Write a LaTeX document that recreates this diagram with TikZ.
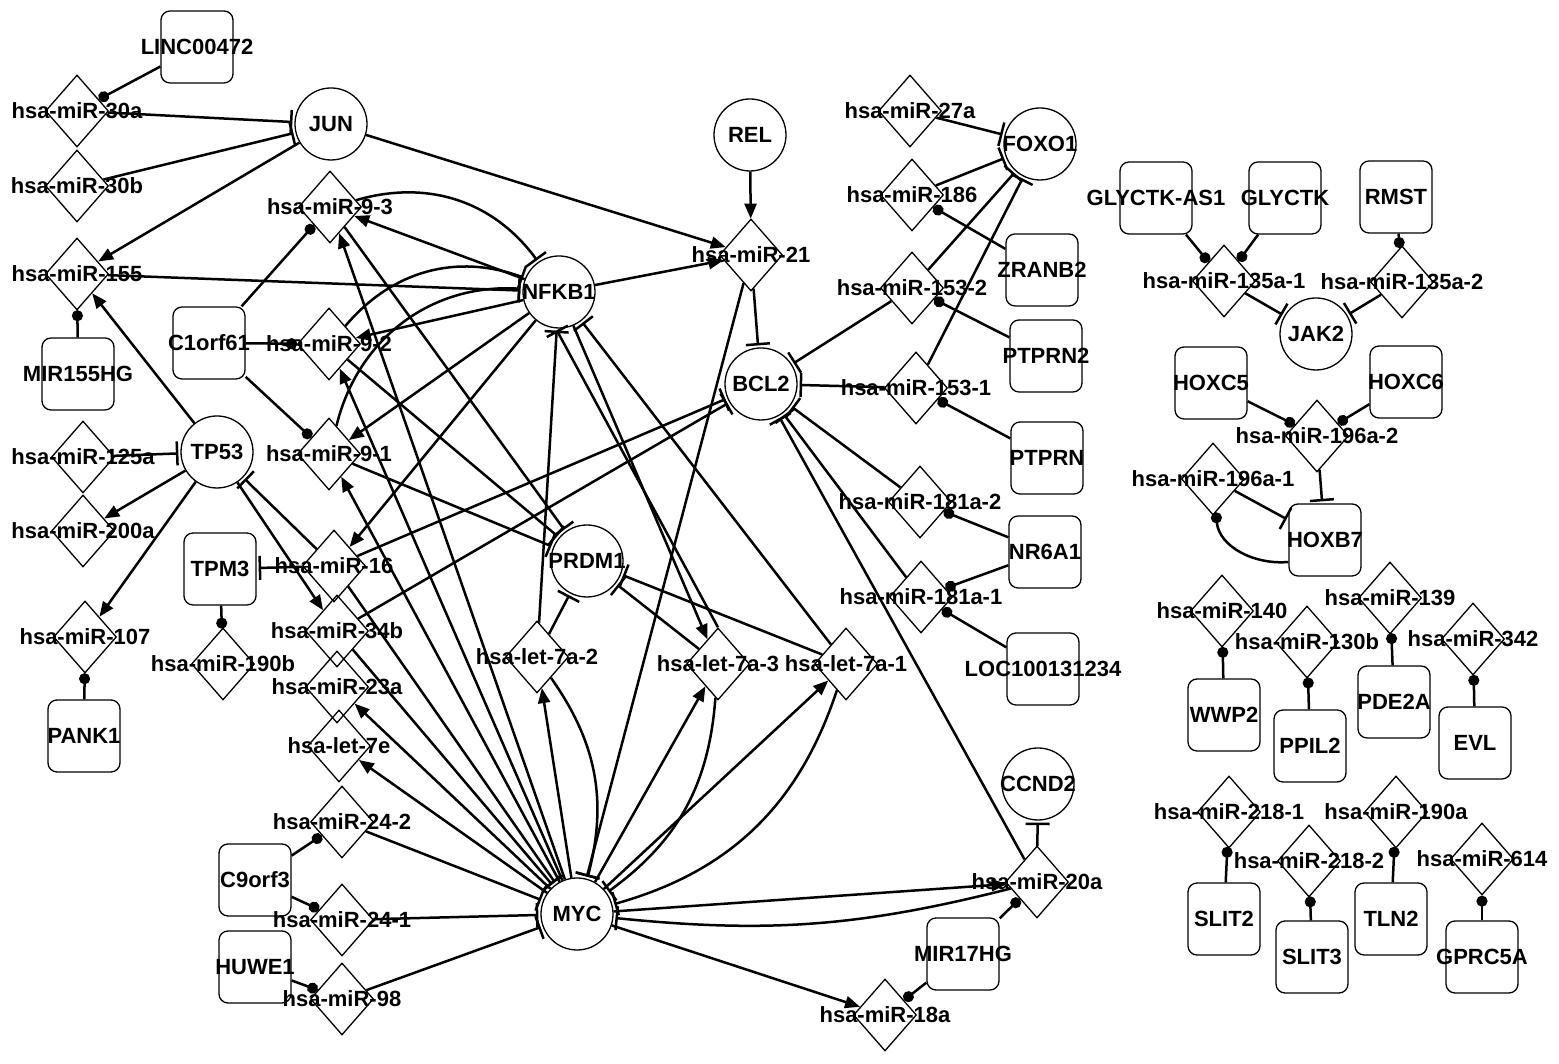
\documentclass[tikz,border=0pt]{standalone}
\usepackage{fontspec}
\setmainfont{Liberation Sans}
\usetikzlibrary{shapes.geometric,arrows.meta}
\tikzset{
 gene/.style={circle,draw,line width=1.3pt,minimum size=72pt,inner sep=0pt},
 mirna/.style={diamond,draw,line width=1.3pt,minimum width=63pt,minimum height=72pt,inner sep=0pt},
 lnc/.style={rectangle,rounded corners=9pt,draw,line width=1.3pt,minimum size=72pt,inner sep=0pt},
 lab/.style={font=\fontsize{22}{24}\selectfont\bfseries,inner sep=0pt},
 edge/.style={line width=2.5pt},
 act/.style={edge,-{Triangle[length=15pt,width=12pt]}},
 inh/.style={edge,-{Bar[width=24pt]},shorten >=2pt},
 bnd/.style={edge,-{Circle[length=11pt]}},
}
\newcommand\mkgene[4]{\node[gene,label={[lab]center:#4}] (#1) at (#2,1064-#3) {};}
\newcommand\mkmir[4]{\node[mirna,label={[lab]center:#4}] (#1) at (#2,1064-#3) {};}
\newcommand\mklnc[4]{\node[lnc,label={[lab]center:#4}] (#1) at (#2,1064-#3) {};}
\begin{document}
\begin{tikzpicture}[x=1pt,y=1pt]
\useasboundingbox[fill=white] (0,0) rectangle (1559,1064);
% genes
\mkgene{jun}{331}{124}{JUN}
\mkgene{nfkb1}{559}{292}{NFKB1}
\mkgene{tp53}{217}{452}{TP53}
\mkgene{rel}{750}{135}{REL}
\mkgene{bcl2}{761}{384}{BCL2}
\mkgene{prdm1}{587}{561}{PRDM1}
\mkgene{foxo1}{1040}{144}{FOXO1}
\mkgene{ccnd2}{1038}{784}{CCND2}
\mkgene{myc}{577}{914}{MYC}
\mkgene{jak2}{1316}{334}{JAK2}
% boxes
\mklnc{linc}{197}{47}{LINC00472}
\mklnc{mir155hg}{78}{374}{MIR155HG}
\mklnc{c1orf61}{209}{343}{C1orf61}
\mklnc{tpm3}{220}{569}{TPM3}
\mklnc{pank1}{84}{736}{PANK1}
\mklnc{c9orf3}{255}{880}{C9orf3}
\mklnc{huwe1}{255}{967}{HUWE1}
\mklnc{zranb2}{1042}{270}{ZRANB2}
\mklnc{ptprn2}{1046}{356}{PTPRN2}
\mklnc{ptprn}{1047}{458}{PTPRN}
\mklnc{nr6a1}{1045}{552}{NR6A1}
\mklnc{loc}{1043}{669}{LOC100131234}
\mklnc{mir17hg}{963}{954}{MIR17HG}
\mklnc{glyas}{1156}{198}{GLYCTK-AS1}
\mklnc{glyctk}{1285}{198}{GLYCTK}
\mklnc{rmst}{1396}{197}{RMST}
\mklnc{hoxc5}{1211}{383}{HOXC5}
\mklnc{hoxc6}{1406}{382}{HOXC6}
\mklnc{hoxb7}{1325}{540}{HOXB7}
\mklnc{wwp2}{1224}{715}{WWP2}
\mklnc{ppil2}{1310}{746}{PPIL2}
\mklnc{pde2a}{1394}{702}{PDE2A}
\mklnc{evl}{1475}{743}{EVL}
\mklnc{slit2}{1224}{919}{SLIT2}
\mklnc{slit3}{1312}{957}{SLIT3}
\mklnc{tln2}{1391}{919}{TLN2}
\mklnc{gprc5a}{1482}{957}{GPRC5A}
% miRNAs
\mkmir{m30a}{77}{111}{hsa-miR-30a}
\mkmir{m30b}{77}{186}{hsa-miR-30b}
\mkmir{m155}{77}{274}{hsa-miR-155}
\mkmir{m93}{330}{207}{hsa-miR-9-3}
\mkmir{m92}{329}{344}{hsa-miR-9-2}
\mkmir{m91}{329}{454}{hsa-miR-9-1}
\mkmir{m125a}{83}{457}{hsa-miR-125a}
\mkmir{m200a}{83}{531}{hsa-miR-200a}
\mkmir{m16}{334}{566}{hsa-miR-16}
\mkmir{m34b}{337}{631}{hsa-miR-34b}
\mkmir{m107}{85}{637}{hsa-miR-107}
\mkmir{m190b}{223}{664}{hsa-miR-190b}
\mkmir{m23a}{337}{687}{hsa-miR-23a}
\mkmir{l7e}{339}{746}{hsa-let-7e}
\mkmir{m242}{342}{822}{hsa-miR-24-2}
\mkmir{m241}{342}{920}{hsa-miR-24-1}
\mkmir{m98}{342}{999}{hsa-miR-98}
\mkmir{m21}{751}{255}{hsa-miR-21}
\mkmir{l7a2}{537}{657}{hsa-let-7a-2}
\mkmir{l7a3}{718}{664}{hsa-let-7a-3}
\mkmir{l7a1}{846}{664}{hsa-let-7a-1}
\mkmir{m27a}{910}{111}{hsa-miR-27a}
\mkmir{m186}{912}{195}{hsa-miR-186}
\mkmir{m1532}{912}{288}{hsa-miR-153-2}
\mkmir{m1531}{916}{388}{hsa-miR-153-1}
\mkmir{m181a2}{920}{502}{hsa-miR-181a-2}
\mkmir{m181a1}{921}{597}{hsa-miR-181a-1}
\mkmir{m20a}{1037}{882}{hsa-miR-20a}
\mkmir{m18a}{885}{1015}{hsa-miR-18a}
\mkmir{m135a1}{1224}{281}{hsa-miR-135a-1}
\mkmir{m135a2}{1402}{282}{hsa-miR-135a-2}
\mkmir{m196a2}{1317}{436}{hsa-miR-196a-2}
\mkmir{m196a1}{1213}{479}{hsa-miR-196a-1}
\mkmir{m140}{1222}{611}{hsa-miR-140}
\mkmir{m130b}{1307}{642}{hsa-miR-130b}
\mkmir{m139}{1390}{598}{hsa-miR-139}
\mkmir{m342}{1473}{639}{hsa-miR-342}
\mkmir{m2181}{1229}{812}{hsa-miR-218-1}
\mkmir{m2182}{1309}{861}{hsa-miR-218-2}
\mkmir{m190a}{1396}{812}{hsa-miR-190a}
\mkmir{m614}{1482}{859}{hsa-miR-614}
% JUN cluster
\draw[bnd] (linc) -- (m30a);
\draw[inh] (m30a) -- (jun);
\draw[inh] (m30b) -- (jun);
\draw[act] (jun) -- (m155);
\draw[act] (jun) -- (m21);
\draw[inh] (m155) -- (nfkb1);
\draw[bnd] (mir155hg) -- (m155);
\draw[act] (tp53) -- (m155);
% miR-9 family
\draw[bnd] (c1orf61) -- (m93);
\draw[bnd] (c1orf61) -- (m92);
\draw[bnd] (c1orf61) -- (m91);
\draw[act] (nfkb1) -- (m93);
\draw[act] (nfkb1) -- (m92);
\draw[act] (nfkb1) -- (m91);
\draw[act] (nfkb1) -- (m16);
\draw[inh] (m93) to[bend left=35] (nfkb1);
\draw[inh] (m92) to[bend left=35] (nfkb1);
\draw[inh] (m91) to[bend left=40] (nfkb1);
\draw[inh] (m93) -- (prdm1);
\draw[inh] (m92) -- (prdm1);
\draw[inh] (m91) -- (prdm1);
% TP53
\draw[inh] (m125a) -- (tp53);
\draw[act] (tp53) -- (m200a);
\draw[act] (tp53) -- (m107);
\draw[act] (tp53) -- (m34b);
\draw[inh] (m16) -- (tp53);
\draw[inh] (m16) -- (tpm3);
\draw[bnd] (tpm3) -- (m190b);
\draw[bnd] (pank1) -- (m107);
% BCL2
\draw[inh] (m16) -- (bcl2);
\draw[inh] (m34b) -- (bcl2);
\draw[inh] (m21) -- (bcl2);
\draw[act] (rel) -- (m21);
\draw[act] (nfkb1) -- (m21);
\draw[inh] (m1532) -- (bcl2);
\draw[inh] (m1531) -- (bcl2);
\draw[inh] (m181a2) -- (bcl2);
\draw[inh] (m181a1) -- (bcl2);
\draw[inh] (m20a) -- (bcl2);
% FOXO1
\draw[inh] (m27a) -- (foxo1);
\draw[inh] (m186) -- (foxo1);
\draw[inh] (m1532) -- (foxo1);
\draw[inh] (m1531) -- (foxo1);
\draw[bnd] (zranb2) -- (m186);
\draw[bnd] (ptprn2) -- (m1532);
\draw[bnd] (ptprn) -- (m1531);
\draw[bnd] (nr6a1) -- (m181a2);
\draw[bnd] (nr6a1) -- (m181a1);
\draw[bnd] (loc) -- (m181a1);
% miR-17-92
\draw[inh] (m20a) -- (ccnd2);
\draw[bnd] (mir17hg) -- (m20a);
\draw[bnd] (mir17hg) -- (m18a);
\draw[act] (myc) -- (m20a);
\draw[inh] (m20a) to[bend left=10] (myc);
\draw[act] (myc) -- (m18a);
% MYC left
\draw[inh] (m242) -- (myc);
\draw[inh] (m241) -- (myc);
\draw[inh] (m98) -- (myc);
\draw[bnd] (c9orf3) -- (m242);
\draw[bnd] (c9orf3) -- (m241);
\draw[bnd] (huwe1) -- (m98);
\draw[act] (myc) -- (l7e);
\draw[act] (myc) -- (m23a);
\draw[act] (myc) -- (m91);
\draw[act] (myc) -- (m92);
\draw[act] (myc) -- (m93);
\draw[inh] (m34b) -- (myc);
\draw[inh] (m16) -- (myc);
\draw[inh] (m21) -- (myc);
% let-7a family
\draw[act] (myc) -- (l7a2);
\draw[act] (myc) -- (l7a3);
\draw[act] (myc) -- (l7a1);
\draw[inh] (l7a2) to[bend left=25] (myc);
\draw[inh] (l7a3) to[bend left=25] (myc);
\draw[inh] (l7a1) to[bend left=28] (myc);
\draw[inh] (l7a2) -- (prdm1);
\draw[inh] (l7a3) -- (prdm1);
\draw[inh] (l7a1) -- (prdm1);
\draw[inh] (l7a2) -- (nfkb1);
\draw[act] (nfkb1) -- (l7a3);
\draw[inh] (l7a3.north) -- (nfkb1.-95);
\draw[inh] (l7a1) -- (nfkb1);
% right clusters
\draw[bnd] (glyas) -- (m135a1);
\draw[bnd] (glyctk) -- (m135a1);
\draw[bnd] (rmst) -- (m135a2);
\draw[inh] (m135a1) -- (jak2);
\draw[inh] (m135a2) -- (jak2);
\draw[bnd] (hoxc5) -- (m196a2);
\draw[bnd] (hoxc6) -- (m196a2);
\draw[inh] (m196a2) -- (hoxb7);
\draw[inh] (m196a1) -- (hoxb7);
\draw[bnd] ([yshift=-22pt]hoxb7.west) to[out=185,in=-85] (m196a1);
\draw[bnd] (wwp2) -- (m140);
\draw[bnd] (ppil2) -- (m130b);
\draw[bnd] (pde2a) -- (m139);
\draw[bnd] (evl) -- (m342);
\draw[bnd] (slit2) -- (m2181);
\draw[bnd] (slit3) -- (m2182);
\draw[bnd] (tln2) -- (m190a);
\draw[bnd] (gprc5a) -- (m614);
\end{tikzpicture}
\end{document}
